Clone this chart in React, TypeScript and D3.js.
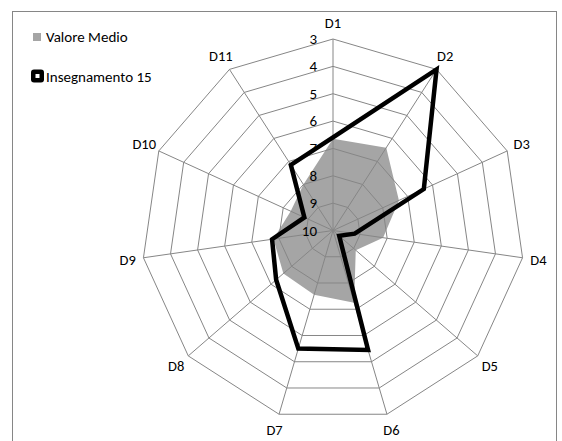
import React from "react";
import * as d3 from "d3";

const categories = ["D1", "D2", "D3", "D4", "D5", "D6", "D7", "D8", "D9", "D10", "D11"];
const valoreMedio = [6.65, 6.4, 7.35, 8.15, 8.9, 7.25, 7.55, 7.6, 7.8, 8.3, 8.0];
const insegnamento15 = [6.6, 3.0, 6.35, 9.2, 9.7, 5.45, 5.5, 7.25, 7.75, 8.85, 7.15];
const tickValues = [3, 4, 5, 6, 7, 8, 9, 10];
const seriesNames = ["Valore Medio", "Insegnamento 15"];

const W = 562;
const H = 441;
const cx = 333;
const cy = 230.5;
const R = 191.5;
const FONT = "Carlito, Calibri, Lato, sans-serif";

export default function App() {
  const r = d3.scaleLinear().domain([10, 3]).range([0, R]);
  const n = categories.length;
  const angle = d3.scaleLinear().domain([0, n]).range([0, 2 * Math.PI]);

  const radial = d3
    .lineRadial<number>()
    .angle((_, i) => angle(i))
    .radius((v) => r(v))
    .curve(d3.curveLinearClosed);

  const pt = (i: number, rad: number): [number, number] => [
    Math.sin(angle(i)) * rad,
    -Math.cos(angle(i)) * rad,
  ];

  return (
    <svg
      width={W}
      height={H}
      style={{ position: "absolute", left: 0, top: 0, background: "#fff" }}
      fontFamily={FONT}
    >
      <rect x={12.5} y={11.5} width={544} height={440} fill="#fff" stroke="#868686" strokeWidth={1} />
      <g transform={`translate(${cx},${cy})`}>
        <path d={radial(valoreMedio) || ""} fill="#a5a5a5" stroke="none" />
        {tickValues.map((t) => (
          <path
            key={t}
            d={radial(categories.map(() => t)) || ""}
            fill="none"
            stroke="#868686"
            strokeWidth={1}
          />
        ))}
        {categories.map((c, i) => {
          const [x, y] = pt(i, R);
          return <line key={c} x1={0} y1={0} x2={x} y2={y} stroke="#868686" strokeWidth={1} />;
        })}
        <path
          d={radial(insegnamento15) || ""}
          fill="none"
          stroke="#000"
          strokeWidth={4.5}
          strokeLinejoin="miter"
          strokeMiterlimit={10}
        />
        {categories.map((c, i) => {
          const [x, y] = pt(i, R + 16);
          return (
            <text
              key={c}
              x={x}
              y={y}
              textAnchor="middle"
              dominantBaseline="central"
              fontSize={14.5}
              fill="#000"
            >
              {c}
            </text>
          );
        })}
        {tickValues.map((t) => (
          <text
            key={t}
            x={-16}
            y={-r(t)}
            textAnchor="end"
            dominantBaseline="central"
            fontSize={15}
            fill="#000"
          >
            {t}
          </text>
        ))}
      </g>
      <g>
        <rect x={33} y={33} width={8} height={8} fill="#a5a5a5" />
        <text x={46} y={37} dominantBaseline="central" fontSize={15} fill="#000">
          {seriesNames[0]}
        </text>
        <rect x={31} y={69.5} width={13} height={13} rx={3} fill="#000" />
        <rect x={35.5} y={74} width={4} height={4} fill="#fff" />
        <text x={46} y={77} dominantBaseline="central" fontSize={15} fill="#000">
          {seriesNames[1]}
        </text>
      </g>
    </svg>
  );
}
